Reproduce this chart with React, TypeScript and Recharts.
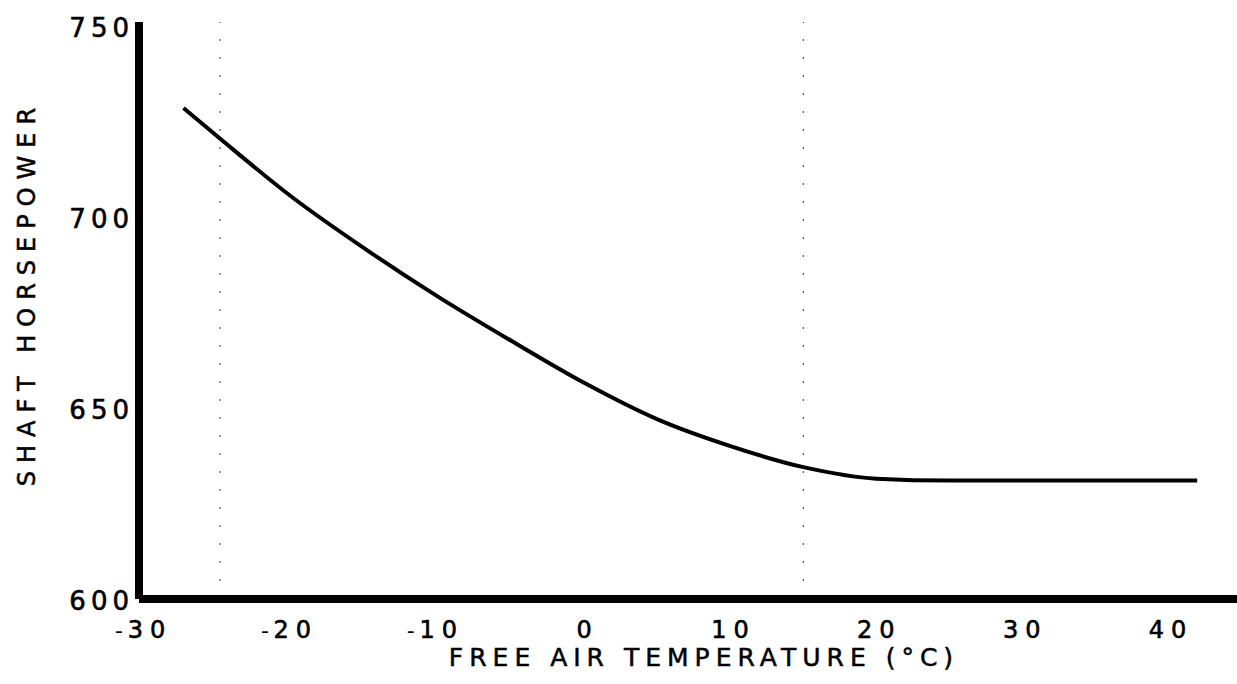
import { LineChart, Line, XAxis, YAxis, ReferenceLine } from 'recharts'

// free air temperature (°C) vs shaft horsepower
const temps = [-27.5, -25, -20, -15, -10, -5, 0, 5, 10, 15, 20, 25, 30, 35, 42]
const shp = [728.5, 720.5, 705, 691.5, 679, 667.5, 656.5, 647, 640, 634.5, 631.5, 631, 631, 631, 631]

const xTicks = [-30, -20, -10, 0, 10, 20, 30, 40]
const yTicks = [600, 650, 700, 750]
const faintLines = [-25, 15]

const data = temps.map((t, i) => ({ temp: t, hp: shp[i] }))

const FONT = '"DejaVu Sans", Verdana, sans-serif'

const XTick = ({ x, payload }: any) => {
  const v = payload.value as number
  const neg = v < 0
  return (
    <g>
      {neg && (
        <text x={x - 28} y={630} fontFamily={FONT} fontSize={22} fill="#000" textAnchor="middle" dominantBaseline="central">
          -
        </text>
      )}
      <text x={x + 3} y={630} fontFamily={FONT} fontSize={24} letterSpacing={7} stroke="#000" strokeWidth={0.6} fill="#000" textAnchor="middle" dominantBaseline="central">
        {Math.abs(v)}
      </text>
    </g>
  )
}

const YTick = ({ y, payload }: any) => (
  <text x={134} y={y + 2} fontFamily={FONT} fontSize={26} letterSpacing={5} stroke="#000" strokeWidth={0.6} fill="#000" textAnchor="end" dominantBaseline="central">
    {payload.value}
  </text>
)

const App = () => {
  return (
    <div style={{ position: 'absolute', left: 0, top: 0, width: 1237, height: 684, background: '#fff' }}>
      <LineChart width={1237} height={684} data={data} margin={{ top: 22, right: 0, left: 0, bottom: 0 }}>
        <XAxis
          dataKey="temp"
          type="number"
          domain={[-30.55, 44.73]}
          ticks={xTicks}
          allowDataOverflow
          height={85}
          tickLine={false}
          axisLine={{ stroke: '#000', strokeWidth: 8 }}
          tick={<XTick />}
        />
        <YAxis
          type="number"
          domain={[600, 751]}
          ticks={yTicks}
          allowDataOverflow
          width={139}
          tickLine={false}
          axisLine={{ stroke: '#000', strokeWidth: 8 }}
          tick={<YTick />}
        />
        {faintLines.map((v) => (
          <ReferenceLine key={v} x={v} stroke="#555" strokeWidth={1.2} strokeDasharray="2 16" />
        ))}
        <Line
          type="monotone"
          dataKey="hp"
          stroke="#000"
          strokeWidth={4}
          dot={false}
          isAnimationActive={false}
        />
      </LineChart>
      <div
        style={{
          position: 'absolute',
          left: 0,
          top: 643,
          width: 1408,
          textAlign: 'center',
          fontFamily: FONT,
          fontSize: 25,
          letterSpacing: 6,
          lineHeight: '30px',
          WebkitTextStroke: '0.5px #000',
          whiteSpace: 'nowrap',
        }}
      >
        FREE AIR TEMPERATURE (°C)
      </div>
      <div
        style={{
          position: 'absolute',
          left: 27 - 250,
          top: 293 - 15,
          width: 500,
          height: 30,
          lineHeight: '30px',
          textAlign: 'center',
          transform: 'rotate(-90deg)',
          fontFamily: FONT,
          fontSize: 24,
          letterSpacing: 8,
          WebkitTextStroke: '0.5px #000',
          whiteSpace: 'nowrap',
        }}
      >
        SHAFT HORSEPOWER
      </div>
    </div>
  )
}

export default App
